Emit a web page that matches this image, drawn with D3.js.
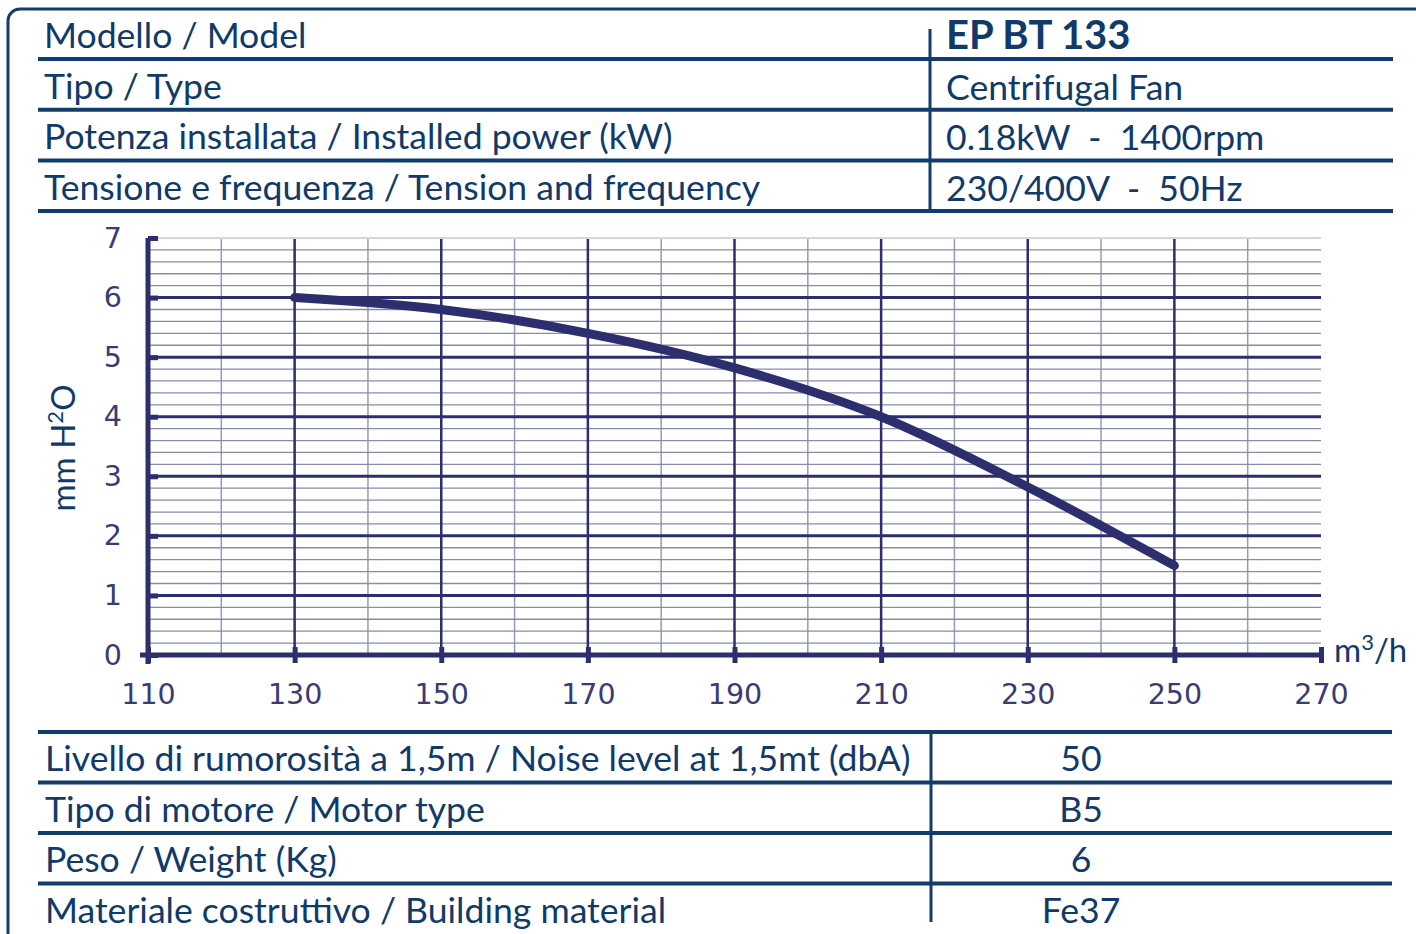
<!DOCTYPE html>
<meta charset="utf-8">
<head>
<style>
  body { margin: 0; background: #fff; }
  text { font-family: Lato, "Open Sans", sans-serif; white-space: pre; }
  .cell { font-size: 35.6px; fill: #0f3a69; }
  .tick text { font-family: "DejaVu Sans", Verdana, sans-serif; font-size: 28.5px; fill: #3a3a74; }
</style>
</head>
<body>
<script src="https://d3js.org/d3.v7.min.js"></script>
<script>

// table contents
var specLabels = ["Modello / Model", "Tipo / Type", "Potenza installata / Installed power (kW)", "Tensione e frequenza / Tension and frequency"];
var specValues = ["EP BT 133", "Centrifugal Fan", "0.18kW  -  1400rpm", "230/400V  -  50Hz"];
var extraLabels = ["Livello di rumorosità a 1,5m / Noise level at 1,5mt (dbA)", "Tipo di motore / Motor type", "Peso / Weight (Kg)", "Materiale costruttivo / Building material"];
var extraValues = ["50", "B5", "6", "Fe37"];

// fan curve
var flow = [130, 150, 170, 190, 210, 230, 250];
var pressure = [6.0, 5.8, 5.4, 4.82, 4.0, 2.82, 1.5];
var xTicks = [110, 130, 150, 170, 190, 210, 230, 250, 270];
var yTicks = [0, 1, 2, 3, 4, 5, 6, 7];

var navy = "#123c6b", ink = "#2d2e6e";

var svg = d3.select("body").append("svg")
    .attr("width", 1416)
    .attr("height", 934);

// outer frame
svg.append("rect")
    .attr("x", 8).attr("y", 9)
    .attr("width", 1430).attr("height", 960)
    .attr("rx", 12)
    .style("fill", "none").style("stroke", navy).style("stroke-width", 3);

// ---- top table
var topRows = d3.range(specLabels.length).map(function(i) { return 59 + i * 50.7; });

svg.selectAll("line.top")
    .data(topRows)
  .enter().append("line")
    .attr("x1", 38).attr("x2", 1393)
    .attr("y1", function(d) { return d; }).attr("y2", function(d) { return d; })
    .style("stroke", navy).style("stroke-width", 4);

svg.append("line")
    .attr("x1", 930).attr("x2", 930).attr("y1", 29).attr("y2", 211)
    .style("stroke", navy).style("stroke-width", 3);

svg.selectAll("text.spec")
    .data(specLabels)
  .enter().append("text")
    .attr("class", "cell")
    .attr("x", 44)
    .attr("y", function(d, i) { return topRows[i] - 11; })
    .text(function(d) { return d; });

svg.selectAll("text.specv")
    .data(specValues)
  .enter().append("text")
    .attr("class", "cell")
    .attr("x", 946)
    .attr("y", function(d, i) { return topRows[i] - 10; })
    .style("font-weight", function(d, i) { return i == 0 ? "bold" : null; })
    .style("font-size", function(d, i) { return i == 0 ? "40px" : null; })
    .text(function(d) { return d; });

// ---- chart
var x = d3.scaleLinear().domain([110, 270]).range([148, 1321]);
var y = d3.scaleLinear().domain([0, 7]).range([655, 238]);

var g = svg.append("g");

// minor grid
g.selectAll("line.vminor")
    .data(d3.range(120, 271, 20))
  .enter().append("line")
    .attr("x1", function(d) { return x(d); }).attr("x2", function(d) { return x(d); })
    .attr("y1", y(7)).attr("y2", y(0))
    .style("stroke", function(d) { return d == 270 ? "#d4d4ea" : "#9a9ab8"; })
    .style("stroke-width", 1.5);

g.selectAll("line.hminor")
    .data(d3.range(0, 35).filter(function(i) { return i % 5 != 0; }).map(function(i) { return i / 5; }))
  .enter().append("line")
    .attr("x1", x(110)).attr("x2", x(270))
    .attr("y1", function(d) { return y(d); }).attr("y2", function(d) { return y(d); })
    .style("stroke", "#8a8aab")
    .style("stroke-width", 1.3);

svg.append("line")
    .attr("x1", x(110)).attr("x2", x(270)).attr("y1", y(7)).attr("y2", y(7))
    .style("stroke", "#d4d4ea").style("stroke-width", 2);

// major grid
g.selectAll("line.vmajor")
    .data(xTicks.filter(function(d) { return d > 110 && d < 270; }))
  .enter().append("line")
    .attr("x1", function(d) { return x(d); }).attr("x2", function(d) { return x(d); })
    .attr("y1", y(7)).attr("y2", y(0))
    .style("stroke", ink).style("stroke-width", 2.5);

g.selectAll("line.hmajor")
    .data(yTicks.filter(function(d) { return d > 0 && d < 7; }))
  .enter().append("line")
    .attr("x1", x(110)).attr("x2", x(270))
    .attr("y1", function(d) { return y(d); }).attr("y2", function(d) { return y(d); })
    .style("stroke", ink).style("stroke-width", 3);

// axes
var xAxis = d3.axisBottom(x).tickValues(xTicks).tickSize(8).tickPadding(21);
var yAxis = d3.axisLeft(y).tickValues(yTicks).tickFormat(d3.format("d")).tickSize(10).tickPadding(16);

var gx = svg.append("g")
    .attr("transform", "translate(0," + y(0) + ")")
    .call(xAxis);
gx.selectAll(".tick line").attr("y1", -8)
    .style("stroke", ink).style("stroke-width", 5);
gx.select(".domain").attr("d", "M140,0H" + x(270))
    .style("stroke", ink).style("stroke-width", 5);

var gy = svg.append("g")
    .attr("transform", "translate(" + x(110) + ",0)")
    .call(yAxis);
gy.selectAll(".tick line").attr("x2", 10)
    .style("stroke", ink).style("stroke-width", 5);
gy.select(".domain").attr("d", "M0," + y(7) + "V" + (y(0) + 9))
    .style("stroke", ink).style("stroke-width", 5);
svg.selectAll(".tick text").style("fill", "#3a3a74");

// curve
var line = d3.line()
    .x(function(d) { return x(d[0]); })
    .y(function(d) { return y(d[1]); })
    .curve(d3.curveMonotoneX);

svg.append("path")
    .datum(flow.map(function(f, i) { return [f, pressure[i]]; }))
    .attr("d", line)
    .style("fill", "none")
    .style("stroke", ink)
    .style("stroke-width", 9)
    .style("stroke-linecap", "round");

// axis titles
var yt = svg.append("text")
    .attr("class", "cell")
    .attr("transform", "translate(75,448) rotate(-90)")
    .attr("text-anchor", "middle")
    .style("font-size", "33px");
yt.append("tspan").text("mm H");
yt.append("tspan").attr("dy", -12).style("font-size", "22px").text("2");
yt.append("tspan").attr("dy", 12).text("O");

var xt = svg.append("text")
    .attr("class", "cell")
    .attr("x", 1334).attr("y", 662)
    .style("font-size", "33px");
xt.append("tspan").text("m");
xt.append("tspan").attr("dy", -12).style("font-size", "22px").text("3");
xt.append("tspan").attr("dy", 12).text("/h");

// ---- bottom table
var botRows = d3.range(extraLabels.length).map(function(i) { return 732 + i * 50.5; });

svg.selectAll("line.bot")
    .data(botRows)
  .enter().append("line")
    .attr("x1", 38).attr("x2", 1392)
    .attr("y1", function(d) { return d; }).attr("y2", function(d) { return d; })
    .style("stroke", navy).style("stroke-width", 4);

svg.append("line")
    .attr("x1", 931).attr("x2", 931).attr("y1", 732).attr("y2", 922)
    .style("stroke", navy).style("stroke-width", 3);

svg.selectAll("text.extra")
    .data(extraLabels)
  .enter().append("text")
    .attr("class", "cell")
    .attr("x", 45)
    .attr("y", function(d, i) { return botRows[i] + 39; })
    .text(function(d) { return d; });

svg.selectAll("text.extrav")
    .data(extraValues)
  .enter().append("text")
    .attr("class", "cell")
    .attr("x", 1081)
    .attr("text-anchor", "middle")
    .attr("y", function(d, i) { return botRows[i] + 39; })
    .text(function(d) { return d; });

</script>
</body>
